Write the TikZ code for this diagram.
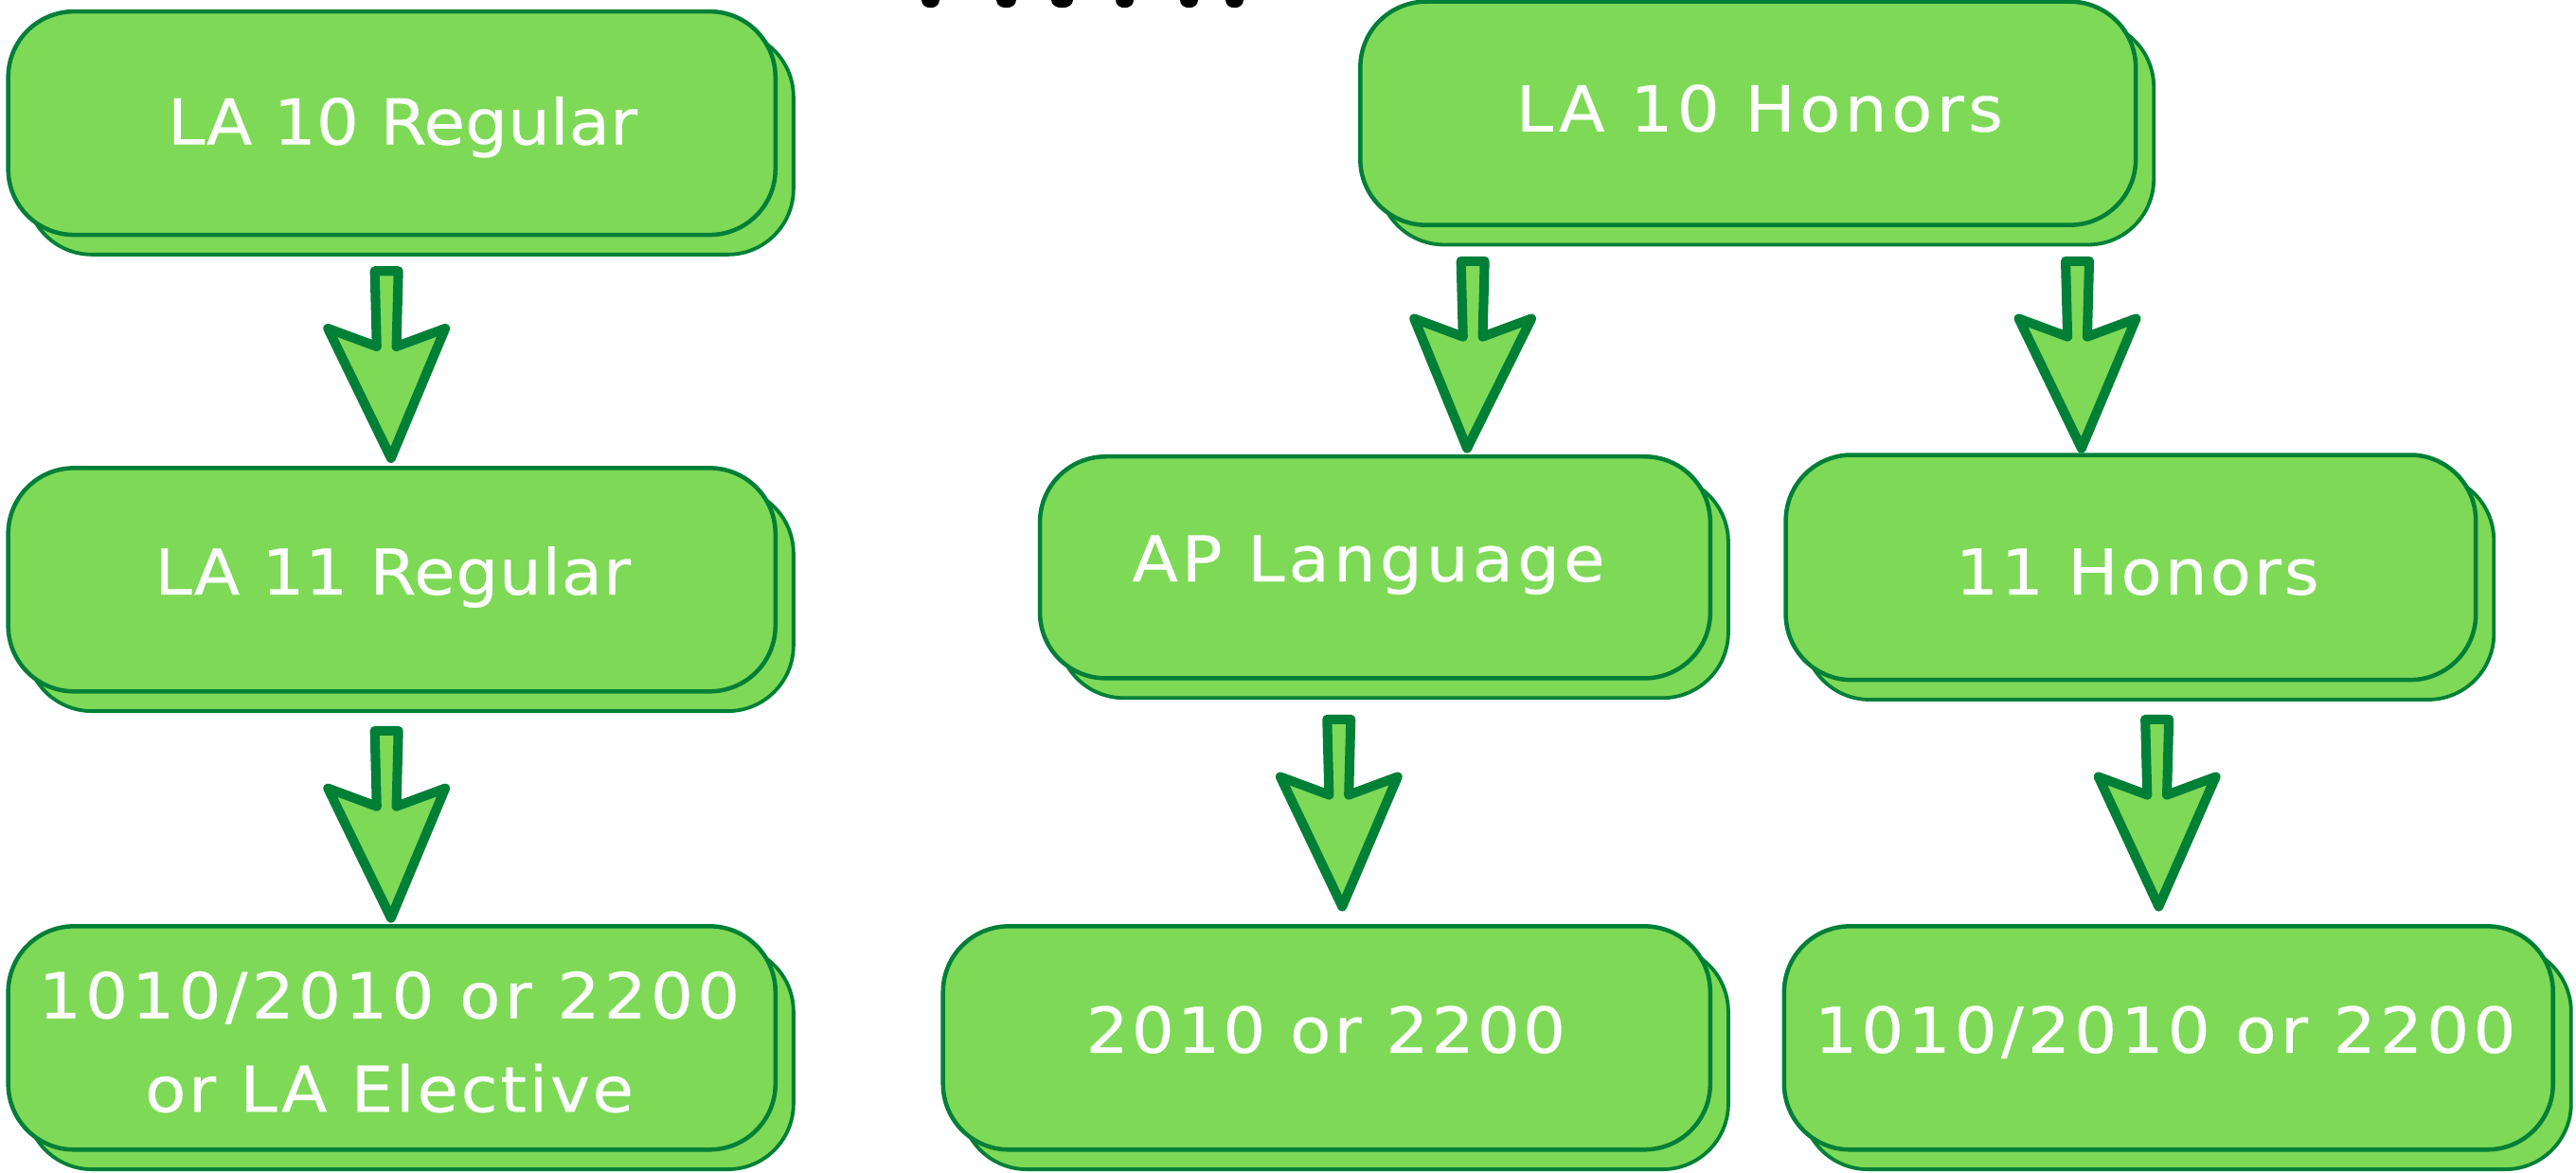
\documentclass[tikz,border=0pt]{standalone}
\usepackage{fontspec}
\usetikzlibrary{shadows}
\newfontfamily\lbfamily{DejaVu Sans}
\definecolor{boxfill}{HTML}{7ED957}
\definecolor{boxline}{HTML}{007F37}
\newcommand\lbls[1]{\lbfamily\addfontfeature{LetterSpace=#1,FakeStretch=1.06,FakeBold=0.3}\fontsize{38.5pt}{57pt}\selectfont}
\newcommand\blockarrow[3]{%
  \draw[barrow] ({#1-7.2},{#2}) -- ({#1+7.2},{#2}) -- ({#1+6},{#2+46}) -- ({#1+35.7},{#2+35}) --
    ({#1+#3},{#2+114}) -- ({#1-35.7},{#2+35}) -- ({#1-6},{#2+46}) -- cycle;}
\tikzset{
  box/.style={draw=boxline, fill=boxfill, line width=2.6pt, rounded corners=40pt,
    minimum height=136pt, inner sep=0pt,
    copy shadow={shadow xshift=11pt, shadow yshift=-12pt, draw=boxline, fill=boxfill, line width=2.2pt}},
  lbl/.style={text=white, anchor=base, inner sep=0pt},
  barrow/.style={draw=boxline, fill=boxfill, line width=5.8pt, line join=round},
  blob/.style={fill=black}
}
\begin{document}
\begin{tikzpicture}[x=1pt,y=-1pt]
\useasboundingbox (0,0) rectangle (1568,713.7);
% cut-off marks at top
\foreach \cx/\w in {566.5/5.5, 612.5/6, 646.5/6.5, 684.5/5.5, 724/5.5, 751.5/5.5}
  \fill[blob] ({\cx-\w},0) .. controls ({\cx-\w},6.5) and ({\cx+\w},6.5) .. ({\cx+\w},0) -- cycle;
% boxes
\node[box, minimum width=467pt] (b1) at (238.5,75) {};
\node[box, minimum width=467pt] (b2) at (238.5,353) {};
\node[box, minimum width=467pt] (b3) at (238.5,632) {};
\node[box, minimum width=472pt] (b4) at (1064,69) {};
\node[box, minimum width=408pt, minimum height=135pt] (b5) at (837,345.5) {};
\node[box, minimum width=420pt, minimum height=137pt] (b6) at (1297,345.5) {};
\node[box, minimum width=467pt] (b7) at (807.5,632) {};
\node[box, minimum width=468pt] (b8) at (1320,632) {};
% labels
\node[lbl, font=\lbls{0}] (t1) at (245,88) {LA 10 Regular};
\node[lbl, font=\lbls{1}] (t2) at (239,362) {LA 11 Regular};
\node[lbl, font=\lbls{6.3}] (t3a) at (237,620) {1010/2010 or 2200};
\node[lbl, font=\lbls{4}] (t3b) at (237,677) {or LA Elective};
\node[lbl, font=\lbls{6.5}] (t4) at (1071,80) {LA 10 Honors};
\node[lbl, font=\lbls{6}] (t5) at (833,354) {AP Language};
\node[lbl, font=\lbls{4.4}] (t6) at (1301,362) {11 Honors};
\node[lbl, font=\lbls{4.8}] (t7) at (807,641) {2010 or 2200};
\node[lbl, font=\lbls{6.3}] (t8) at (1318,641) {1010/2010 or 2200};
% block arrows
\blockarrow{235.3}{165}{2.7}
\blockarrow{235.3}{445}{2.7}
\blockarrow{896.5}{159}{-3.5}
\blockarrow{1264.5}{159}{2.5}
\blockarrow{815}{438}{2}
\blockarrow{1313}{438}{1}
\end{tikzpicture}
\end{document}
